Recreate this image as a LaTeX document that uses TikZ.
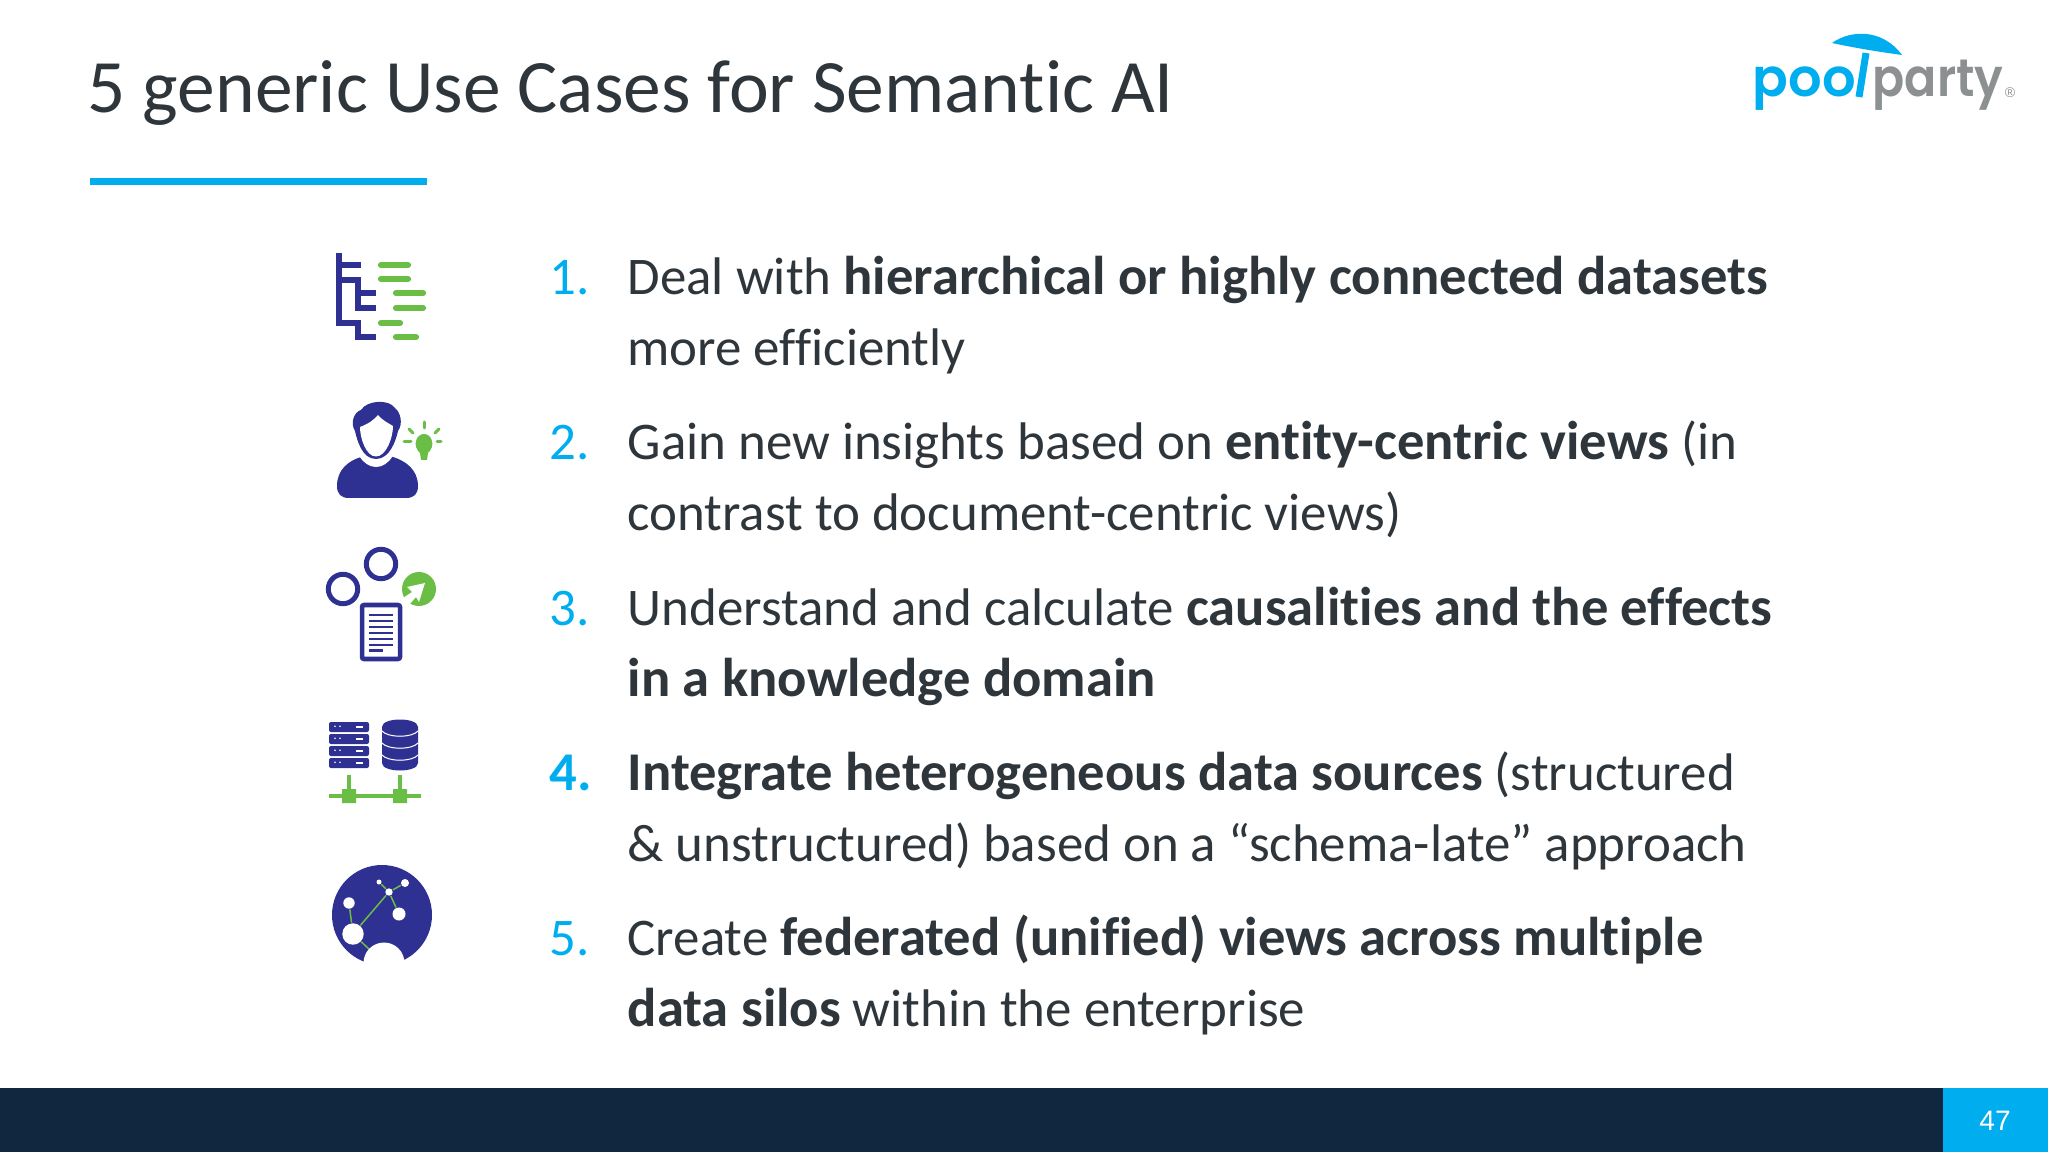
\documentclass[tikz,border=0pt]{standalone}
\usepackage{fontspec}
\setmainfont{Carlito}[Ligatures=NoCommon,BoldFeatures={Scale=1.032}]
\newfontfamily\logofont{Poppins SemiBold}[FakeStretch=0.9]
\newfontfamily\poolfont{Poppins SemiBold}[FakeStretch=1.0]
\newfontfamily\pagefont{Liberation Sans}
\usepackage{tikz}
\usetikzlibrary{positioning}

\definecolor{skyblue}{HTML}{00AEEF}
\definecolor{navybar}{HTML}{10273F}
\definecolor{iconblue}{HTML}{2E3192}
\definecolor{icongreen}{HTML}{6ABD45}
\definecolor{inkgrey}{HTML}{2E363C}
\definecolor{logogrey}{HTML}{8C9091}

\tikzset{
  titletext/.style={anchor=base west, inner sep=0pt, text=inkgrey, font=\fontsize{21.45}{24}\selectfont},
  bodytext/.style={anchor=base west, inner sep=0pt, text=inkgrey, font=\fontsize{15.05}{18}\selectfont},
  numtext/.style={anchor=base west, inner sep=0pt, text=skyblue, font=\fontsize{15.05}{18}\selectfont},
  bluebar/.style={line width=0.62mm, draw=iconblue},
  greenbar/.style={line width=0.62mm, draw=icongreen, line cap=round},
  molnode/.style={circle, fill=white, inner sep=0pt}
}

\begin{document}
\begin{tikzpicture}[x=0.01cm,y=-0.01cm]
  \useasboundingbox (0,0) rectangle (2048,1152);

  \def \firstline {295}
  \def \linegap {71}
  \def \blockgap {165}

  % title and footer
  \node[titletext] (title) at (87,113) {5 generic Use Cases for Semantic AI};
  \fill[skyblue] (90,178) rectangle (427,185);
  \fill[navybar] (0,1088) rectangle (2048,1152);
  \fill[skyblue] (1943,1088) rectangle (2048,1152);
  \node[text=white, font=\pagefont\fontsize{8}{10}\selectfont] (pagenum) at (1995,1121) {47};

  % logo
  \node[anchor=base west, inner sep=0pt, text=skyblue, font=\poolfont\fontsize{15}{18}\selectfont] (logopool) at (1752,97) {poo};
  \draw[skyblue, line width=0.7mm] (1859,97) -- (1866,53);
  \fill[skyblue] (1832,43) .. controls (1850,30) and (1882,28) .. (1902,55) .. controls (1880,52) and (1855,48) .. (1832,43) -- cycle;
  \node[anchor=base west, inner sep=0pt, text=logogrey, font=\logofont\fontsize{15}{18}\selectfont] (logoparty) at (1872,97) {party};
  \node[text=logogrey, font=\pagefont\fontsize{4}{5}\selectfont, inner sep=0pt] (logoreg) at (2010,93) {®};

  % the five items
  \foreach \s/\lab/\txta/\txtb in {
    1/{1.}/{Deal with \textbf{hierarchical or highly connected datasets}}/{more efficiently},
    2/{2.}/{Gain new insights based on \textbf{entity-centric views} (in}/{contrast to document-centric views)},
    3/{3.}/{Understand and calculate \textbf{causalities and the effects}}/{\textbf{in a knowledge domain}},
    4/{\textbf{4.}}/{\textbf{Integrate heterogeneous data sources} (structured}/{\& unstructured) based on a “schema-late” approach},
    5/{5.}/{Create \textbf{federated (unified) views across multiple}}/{\textbf{data silos} within the enterprise}}
  {
    \node[numtext] (num\s) at (549,{\firstline+\blockgap*(\s-1)}) {\lab};
    \node[bodytext] (item\s a) at (627,{\firstline+\blockgap*(\s-1)}) {\txta};
    \node[bodytext] (item\s b) at (627,{\firstline+\linegap+\blockgap*(\s-1)}) {\txtb};
  }

  % icon 1, tree
  \draw[bluebar] (339,253) -- (339,323) -- (358,323) -- (358,337) -- (376,337);
  \draw[bluebar] (339,265) -- (361,265);
  \draw[bluebar] (339,280) -- (358,280) -- (358,308) -- (376,308);
  \draw[bluebar] (358,293) -- (376,293);
  \foreach \xa/\xb/\yy in {381/408/265, 381/408/279, 396/423/293, 396/423/308, 381/400/323, 396/416/337}
    \draw[greenbar] (\xa,\yy) -- (\xb,\yy);

  % icon 2, person
  \fill[iconblue] (337,486) .. controls (337,470) and (348,461) .. (361,457) -- (393,457)
    .. controls (406,461) and (418,470) .. (418,486) .. controls (418,494) and (414,498) .. (406,498)
    -- (349,498) .. controls (341,498) and (337,494) .. (337,486) -- cycle;
  \fill[white] (376,432) ellipse [x radius=23, y radius=35];
  \fill[iconblue] (376,459) .. controls (362,459) and (357,440) .. (355,431)
    .. controls (350,423) and (354,412) .. (361,410) .. controls (367,400) and (389,399) .. (395,408)
    .. controls (401,413) and (403,424) .. (398,431) .. controls (396,440) and (390,459) .. (376,459) -- cycle;
  \fill[white] (376,456.5) .. controls (366,456.5) and (360,438) .. (360,427)
    .. controls (368,424) and (374,420) .. (378,415) .. controls (382,420) and (388,423) .. (393,426)
    .. controls (393,438) and (386,456.5) .. (376,456.5) -- cycle;
  \fill[icongreen] (421,460) -- (420,453) .. controls (412,446) and (416,434) .. (424,434)
    .. controls (432,434) and (436,446) .. (428,453) -- (427,460) -- cycle;
  \foreach \xa/\ya/\xb/\yb in {424/422/424/428, 409/429/413/433, 439/429/435/433, 404/442/411/442, 437/442/441/442}
    \draw[icongreen, line width=0.3mm, line cap=round] (\xa,\ya) -- (\xb,\yb);

  % icon 3, circles and document
  \draw[iconblue, line width=0.5mm] (381,564) circle [radius=14.7];
  \draw[iconblue, line width=0.5mm] (343,589) circle [radius=14.7];
  \fill[icongreen] (419,589) circle [radius=17];
  \fill[white] (425,583) -- (407,587) -- (412,592) -- (403,598) -- (409,605) -- (416,597) -- (419,602) -- cycle;
  \draw[iconblue, line width=0.45mm, rounded corners=0.2mm, fill=white] (362,605) rectangle (400,659);
  \foreach \yy in {615,621,627,633,639,645}
    \draw[iconblue, line width=0.25mm] (369,\yy) -- (393,\yy);
  \draw[iconblue, line width=0.25mm] (369,650.5) -- (383,650.5);

  % icon 4, servers and database
  \foreach \yy in {722,734,746,758}
  {
    \fill[iconblue, rounded corners=0.2mm] (329,\yy) rectangle (369,\yy+10);
    \fill[white] (335,\yy+4.3) circle [radius=0.9] (340,\yy+4.3) circle [radius=0.9];
    \draw[white, line width=0.12mm] (356,\yy+5) -- (363,\yy+5);
  }
  \fill[iconblue] (382,727) -- (382,763) .. controls (382,773) and (418,773) .. (418,763) -- (418,727)
    .. controls (418,717) and (382,717) .. (382,727) -- cycle;
  \foreach \yy in {731,743,755}
    \draw[white, line width=0.1mm] (382,\yy) .. controls (388,\yy+7) and (412,\yy+7) .. (418,\yy);
  \draw[icongreen, line width=0.4mm] (329,796) -- (421,796);
  \draw[icongreen, line width=0.4mm] (349,775) -- (349,790) (400,775) -- (400,790);
  \fill[icongreen] (342,789) rectangle (356,803) (393,789) rectangle (407,803);

  % icon 5, network in a circle
  \fill[iconblue] (382,915) circle [radius=50];
  \node[molnode, minimum size=0.114cm] (mola) at (349,903) {};
  \node[molnode, minimum size=0.214cm] (molb) at (353,934) {};
  \node[molnode, minimum size=0.13cm] (molc) at (399,914) {};
  \node[molnode, minimum size=0.074cm] (mold) at (389,892) {};
  \node[molnode, minimum size=0.08cm] (mole) at (405,883) {};
  \node[molnode, minimum size=0.05cm] (molf) at (379,882) {};
  \coordinate (molg) at (370,950);
  \foreach \a/\b in {mola/molb, molb/mold, mold/molc, mold/mole, mold/molf, molb/molg}
    \draw[icongreen, line width=0.15mm] (\a) -- (\b);
  \fill[white] (384,963) circle [radius=20.5];
  \fill[white] (340,963) rectangle (430,990);
\end{tikzpicture}
\end{document}
